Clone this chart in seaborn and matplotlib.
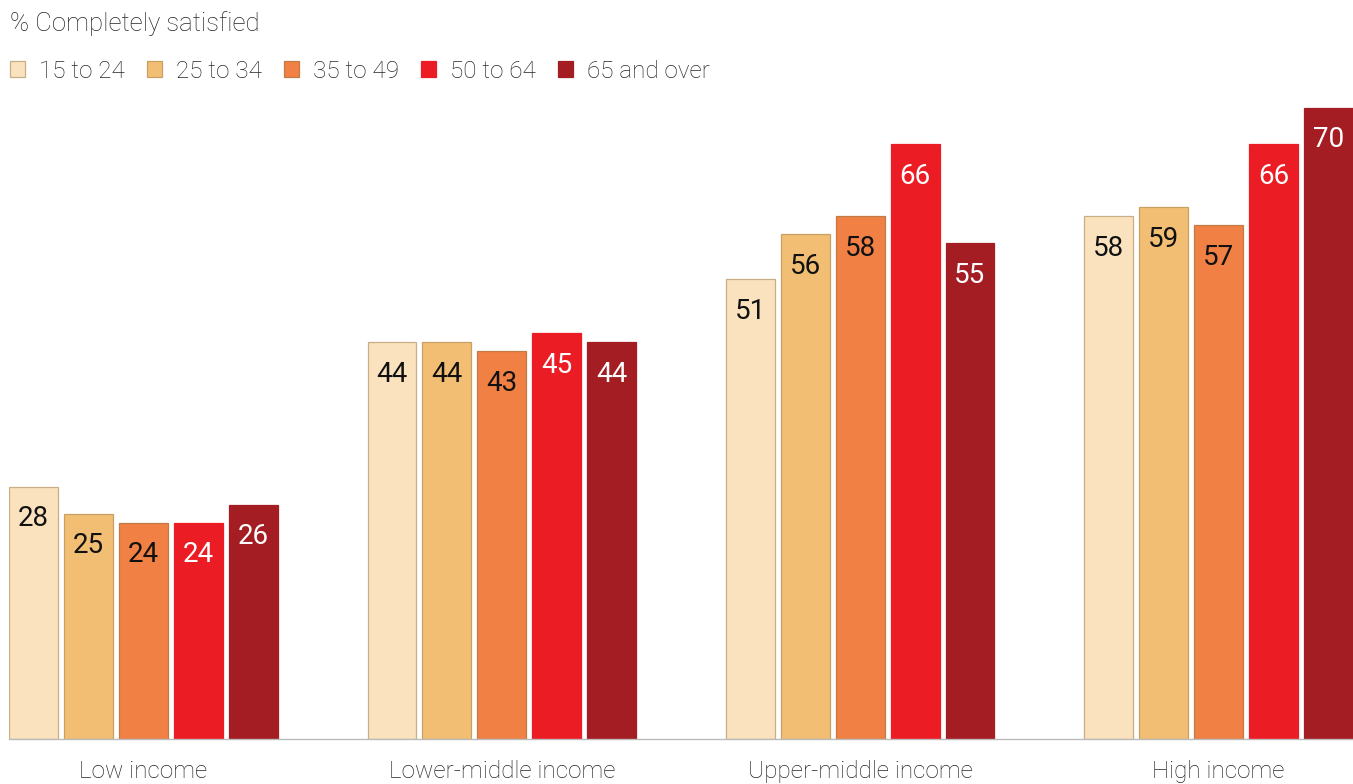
import matplotlib
matplotlib.use("Agg")
import matplotlib.pyplot as plt
from matplotlib.patches import Patch
import seaborn as sns
import pandas as pd

income_groups = ["Low income", "Lower-middle income", "Upper-middle income", "High income"]
age_groups = ["15 to 24", "25 to 34", "35 to 49", "50 to 64", "65 and over"]
satisfied_15_24 = [28, 44, 51, 58]
satisfied_25_34 = [25, 44, 56, 59]
satisfied_35_49 = [24, 43, 58, 57]
satisfied_50_64 = [24, 45, 66, 66]
satisfied_65_over = [26, 44, 55, 70]

series = [satisfied_15_24, satisfied_25_34, satisfied_35_49, satisfied_50_64, satisfied_65_over]
df = pd.DataFrame(
    [(inc, age, vals[i]) for age, vals in zip(age_groups, series) for i, inc in enumerate(income_groups)],
    columns=["income", "age", "value"],
)

colors = ["#FAE2BE", "#F2BE74", "#F08044", "#EC1C24", "#A31D22"]
edges = ["#C9AE85", "#C9A062", "#C27A46", "#EC1C24", "#A31D22"]
text_colors = ["#111111", "#111111", "#111111", "#FFFFFF", "#FFFFFF"]
label_color = "#262626"

sns.set_theme(style="white")
plt.rcParams["font.family"] = ["Roboto", "DejaVu Sans"]

W, H = 1353, 784
fig = plt.figure(figsize=(W / 100, H / 100), dpi=100)
ax = fig.add_axes([9 / W, 45 / H, 1 - 9 / W, (739 - 99) / H])

sns.barplot(
    data=df, x="income", y="value", hue="age",
    order=income_groups, hue_order=age_groups,
    palette=colors, width=0.766, gap=0.109,
    ax=ax, legend=False, saturation=1,
)

for k, cont in enumerate(ax.containers):
    for bar in cont:
        bar.set_edgecolor(edges[k])
        bar.set_linewidth(0.9)
        h = bar.get_height()
        ax.annotate(
            f"{h:.0f}",
            xy=(bar.get_x() + bar.get_width() / 2, h),
            xytext=(0, -23), textcoords="offset points",
            ha="center", va="center", fontsize=20, color=text_colors[k],
        )

ax.set_xlim(-0.375, 3.375)
ax.set_ylim(0, 71)
ax.set_xlabel("")
ax.set_ylabel("")
ax.set_yticks([])
for s in ["top", "right", "left"]:
    ax.spines[s].set_visible(False)
ax.spines["bottom"].set_color("#BBBBBB")
ax.spines["bottom"].set_linewidth(1.0)
ax.tick_params(axis="x", length=0, pad=15, labelsize=17.5, labelcolor=label_color)
for lbl in ax.get_xticklabels():
    lbl.set_fontweight("light")

fig.text(10 / W, 1 - 24 / H, "% Completely satisfied", ha="left", va="center",
         fontsize=18.5, color=label_color, fontweight="light")

handles = [Patch(facecolor=c, edgecolor=e, linewidth=0.9) for c, e in zip(colors, edges)]
leg = fig.legend(
    handles, age_groups, loc="center left", bbox_to_anchor=(3 / W, 1 - 71 / H),
    ncol=5, frameon=False, fontsize=17.5, labelcolor=label_color,
    handlelength=0.6, handleheight=0.6, handletextpad=0.6, columnspacing=0.9,
    borderaxespad=0, borderpad=0.3,
)
for t in leg.get_texts():
    t.set_fontweight("light")

fig.savefig("out.png", dpi=100, facecolor="white")
